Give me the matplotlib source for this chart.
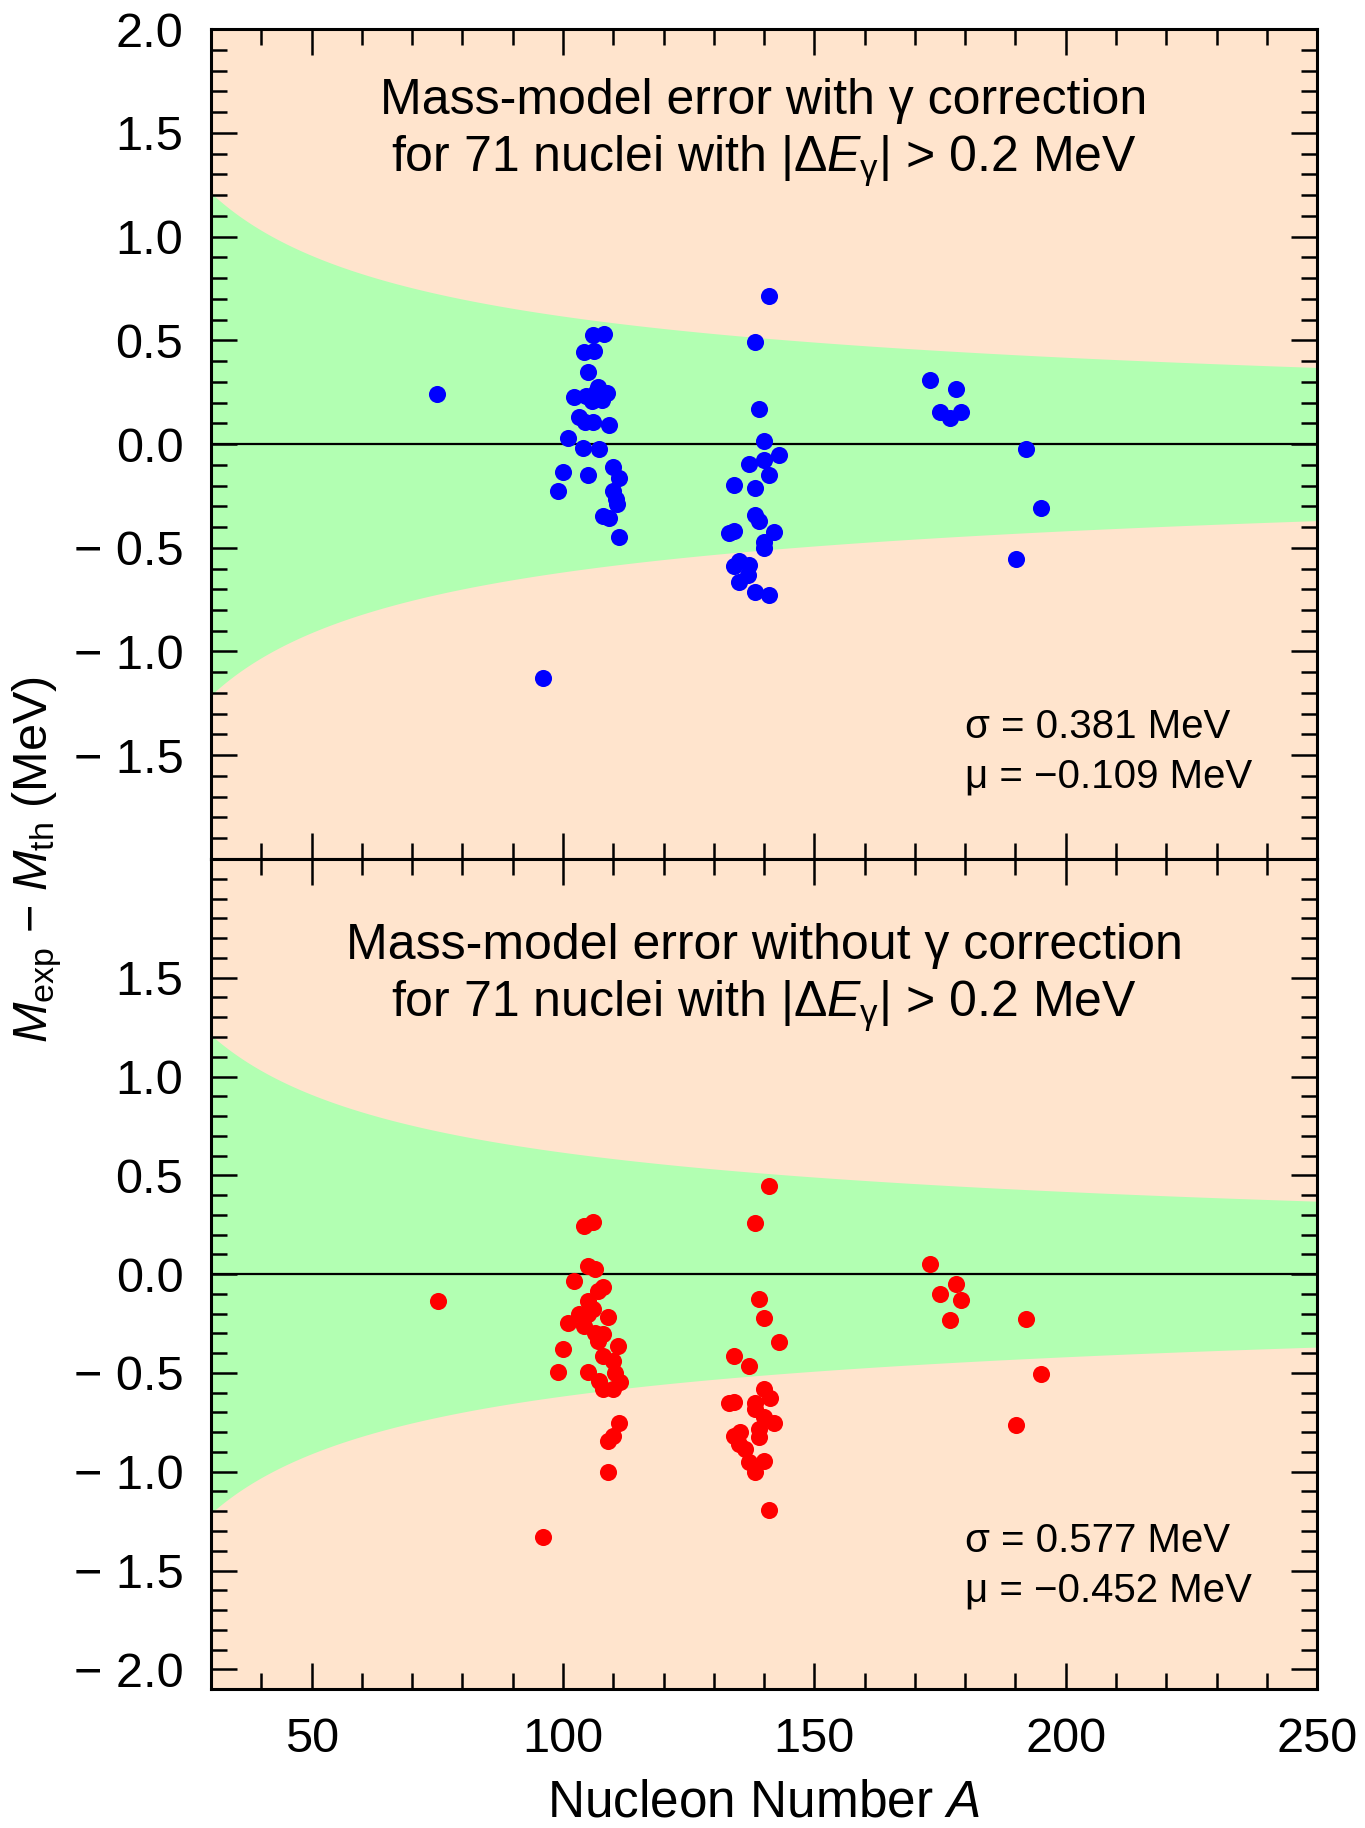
import numpy as np
import matplotlib
matplotlib.use("Agg")
import matplotlib.pyplot as plt
from matplotlib.ticker import MultipleLocator, FixedLocator, FuncFormatter

plt.rcParams["font.family"] = ["Liberation Sans", "DejaVu Sans"]
plt.rcParams["mathtext.fontset"] = "custom"
plt.rcParams["mathtext.rm"] = "Liberation Sans"
plt.rcParams["mathtext.it"] = "Liberation Sans:italic"
plt.rcParams["mathtext.bf"] = "Liberation Sans:bold"

# ---- data: mass-model residuals (MeV) vs nucleon number A ----
a_with = [75.0, 96.1,
          106.05, 108.2, 104.1, 106.2, 105.05, 102.1, 107.0, 108.7, 107.7,
          105.7, 104.6, 106.5, 103.1, 104.4, 106.05, 109.2, 101.1, 103.9,
          107.2, 100.1, 105.05, 110.0, 111.2, 99.1, 110.0, 110.5, 110.8,
          108.0, 109.2, 111.2,
          141.06, 138.1, 139.07, 140.06, 143.05, 140.06, 137.0, 141.06,
          134.04, 138.1, 138.1, 139.07, 133.05, 134.04, 142.06, 140.06,
          140.06, 135.0, 137.0, 134.1, 136.9, 135.0, 138.1, 141.06,
          173.0, 178.1, 175.0, 177.0, 179.1, 192.1, 195.05, 190.1]
dm_with = [0.243, -1.127,
           0.526, 0.529, 0.442, 0.448, 0.349, 0.227, 0.273, 0.246, 0.214,
           0.209, 0.233, 0.250, 0.132, 0.105, 0.105, 0.092, 0.029, -0.021,
           -0.024, -0.133, -0.149, -0.112, -0.165, -0.225, -0.225, -0.265, -0.289,
           -0.346, -0.358, -0.450,
           0.712, 0.490, 0.169, 0.013, -0.053, -0.077, -0.096, -0.149,
           -0.196, -0.214, -0.342, -0.370, -0.429, -0.418, -0.426, -0.474,
           -0.503, -0.563, -0.583, -0.587, -0.632, -0.664, -0.715, -0.728,
           0.310, 0.265, 0.153, 0.124, 0.156, -0.024, -0.307, -0.553]

a_without = [75.2, 96.1,
             106.05, 104.1, 105.05, 106.4, 102.1, 107.9, 107.05, 105.05,
             103.1, 106.05, 101.1, 104.1, 105.05, 109.0, 106.4, 108.05,
             107.05, 111.0, 100.1, 108.05, 110.0, 99.1, 105.05, 110.4,
             107.2, 111.4, 108.05, 110.0, 111.2, 110.0, 109.0, 109.0,
             141.06, 138.1, 139.07, 140.06, 143.05, 134.04, 137.0, 140.06,
             141.2, 133.05, 134.1, 138.1, 138.1, 140.06, 142.06, 139.07,
             134.04, 135.2, 139.07, 135.0, 136.2, 137.0, 140.06, 138.1, 141.06,
             173.0, 178.1, 175.0, 179.1, 177.0, 192.1, 195.05, 190.1]
dm_without = [-0.136, -1.331,
              0.263, 0.242, 0.040, 0.024, -0.035, -0.064, -0.086, -0.136,
              -0.204, -0.178, -0.246, -0.263, -0.204, -0.215, -0.296, -0.305,
              -0.338, -0.364, -0.377, -0.414, -0.439, -0.495, -0.495, -0.498,
              -0.540, -0.545, -0.579, -0.579, -0.754, -0.821, -0.843, -1.000,
              0.448, 0.260, -0.128, -0.224, -0.343, -0.414, -0.465, -0.582,
              -0.629, -0.653, -0.646, -0.650, -0.683, -0.725, -0.751, -0.784,
              -0.818, -0.801, -0.826, -0.860, -0.885, -0.953, -0.944, -1.003, -1.192,
              0.049, -0.049, -0.103, -0.133, -0.232, -0.229, -0.508, -0.764]

sigma_mu_with = (0.381, -0.109)
sigma_mu_without = (0.577, -0.452)

# tolerance band: half-width = W0 * (A / A0) ** (-P)
BAND_W0, BAND_A0, BAND_P = 1.21, 30.0, 0.56

PEACH = "#FFE4CD"
GREEN = "#B2FFB2"

fig = plt.figure(figsize=(13.65, 18.28), dpi=100)
left, width, height = 0.1546, 0.8103, 0.4540
ax_top = fig.add_axes([left, 0.5301, width, height])
ax_bot = fig.add_axes([left, 0.0760, width, height])

a_grid = np.linspace(30, 250, 400)
half = BAND_W0 * (a_grid / BAND_A0) ** (-BAND_P)


def fmt_y(v, pos):
    s = f"{abs(v):.1f}"
    return ("\u2212 " + s) if v < -1e-9 else s


def style(ax, ylim, ylabels, color, a, dm, lines, line_y, stats, stat_y):
    ax.set_facecolor(PEACH)
    ax.fill_between(a_grid, -half, half, color=GREEN, lw=0, zorder=1)
    ax.axhline(0, color="black", lw=1.6, zorder=2)
    ax.plot(a, dm, "o", color=color, ms=12.3, mew=0, zorder=3)
    ax.set_xlim(30, 250)
    ax.set_ylim(*ylim)
    ax.xaxis.set_major_locator(MultipleLocator(50))
    ax.xaxis.set_minor_locator(MultipleLocator(10))
    ax.yaxis.set_major_locator(FixedLocator(ylabels))
    ax.yaxis.set_minor_locator(MultipleLocator(0.1))
    ax.yaxis.set_major_formatter(FuncFormatter(fmt_y))
    ax.tick_params(which="both", direction="in", top=True, right=True,
                   width=1.8, labelsize=35, pad=20)
    ax.tick_params(which="major", length=19)
    ax.tick_params(which="minor", length=11.5)
    for sp in ax.spines.values():
        sp.set_linewidth(2.2)
    for txt, yy in zip(lines, line_y):
        ax.text(0.5, yy, txt, transform=ax.transAxes, ha="center",
                va="center", fontsize=36)
    ax.text(0.682, stat_y[0], f"\u03c3 = {stats[0]:.3f} MeV",
            transform=ax.transAxes, ha="left", va="center", fontsize=29)
    ax.text(0.682, stat_y[1], f"\u03bc = \u2212{abs(stats[1]):.3f} MeV",
            transform=ax.transAxes, ha="left", va="center", fontsize=29)


style(ax_top, (-2.0, 2.0), [2.0, 1.5, 1.0, 0.5, 0.0, -0.5, -1.0, -1.5],
      "#0000FF", a_with, dm_with,
      ["Mass-model error with \u03b3 correction",
       r"for 71 nuclei with |$\Delta E_{\mathrm{\gamma}}$| > 0.2 MeV"],
      (0.913, 0.840), sigma_mu_with, (0.159, 0.099))
style(ax_bot, (-2.1, 2.1), [1.5, 1.0, 0.5, 0.0, -0.5, -1.0, -1.5, -2.0],
      "#FF0000", a_without, dm_without,
      ["Mass-model error without \u03b3 correction",
       r"for 71 nuclei with |$\Delta E_{\mathrm{\gamma}}$| > 0.2 MeV"],
      (0.895, 0.823), sigma_mu_without, (0.178, 0.119))

ax_top.tick_params(labelbottom=False)
ax_bot.set_xlabel(r"Nucleon Number $A$", fontsize=37, labelpad=12)
fig.text(0.027, 0.530, r"$M_{\mathrm{exp}}$ $-$ $M_{\mathrm{th}}$ (MeV)",
         rotation=90, ha="center", va="center", fontsize=35)

fig.savefig("out.png", dpi=100)
